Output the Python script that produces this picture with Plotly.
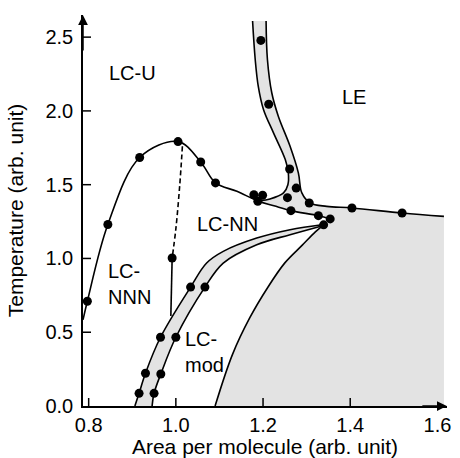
import plotly.graph_objects as go

# ---------------- data ----------------
# main boundary: LC-U / LC-NNN / LC-NN, continuing to the lower branch
main_x = [0.787, 0.797, 0.844, 0.917, 1.005, 1.057, 1.091, 1.14, 1.188, 1.225, 1.264, 1.327, 1.354]
main_y = [0.584, 0.71, 1.23, 1.684, 1.792, 1.654, 1.512, 1.455, 1.39, 1.357, 1.324, 1.29, 1.268]

# LE coexistence band
band_left_x = [1.176, 1.182, 1.189, 1.201, 1.224, 1.251, 1.258, 1.257, 1.247, 1.216, 1.193]
band_left_y = [2.609, 2.35, 2.168, 2.01, 1.851, 1.67, 1.58, 1.50, 1.444, 1.403, 1.392]
band_right_x = [1.207, 1.210, 1.220, 1.235, 1.262, 1.281, 1.289, 1.308]
band_right_y = [2.609, 2.35, 2.123, 1.964, 1.76, 1.58, 1.444, 1.376]
upper_x = [1.308, 1.346, 1.404, 1.519, 1.615]
upper_y = [1.376, 1.353, 1.342, 1.308, 1.285]

# lower branch after the cluster (part of main curve)
lower_x = [1.188, 1.225, 1.264, 1.327, 1.354]
lower_y = [1.39, 1.357, 1.324, 1.29, 1.268]

# LC-mod band
mod_upper_x = [0.906, 0.9156, 0.9303, 0.9648, 1.0338, 1.0706, 1.1087, 1.1855, 1.262, 1.339]
mod_upper_y = [0.0, 0.086, 0.222, 0.466, 0.806, 0.969, 1.048, 1.138, 1.195, 1.230]
mod_lower_x = [0.9455, 0.95, 0.9655, 1.0, 1.0667, 1.1087, 1.1855, 1.262, 1.339]
mod_lower_y = [0.0, 0.086, 0.217, 0.466, 0.806, 0.969, 1.093, 1.161, 1.224]

# bottom-right boundary
br_x = [1.09, 1.13, 1.17, 1.21, 1.25, 1.29, 1.32, 1.339]
br_y = [0.0, 0.35, 0.60, 0.80, 0.97, 1.09, 1.18, 1.228]

# LC-NN / LC-NNN boundary
dash_x = [1.015, 1.009, 1.0, 0.9915]
dash_y = [1.76, 1.5, 1.2, 1.003]
vert_x = [0.9915, 0.9885]
vert_y = [1.003, 0.61]

# measured points
dots_x = [0.797, 0.844, 0.917, 1.005, 1.057, 1.091, 1.179, 1.199, 1.188, 1.264, 1.327, 1.354,
          1.404, 1.519, 1.195, 1.213, 1.261, 1.276, 1.256, 1.306, 0.9915, 1.339,
          0.9156, 0.95, 0.9303, 0.9655, 0.9648, 1.0, 1.0338, 1.0667]
dots_y = [0.71, 1.23, 1.684, 1.792, 1.654, 1.512, 1.432, 1.428, 1.387, 1.324, 1.29, 1.268,
          1.342, 1.308, 2.478, 2.045, 1.606, 1.477, 1.412, 1.376, 1.003, 1.228,
          0.086, 0.086, 0.222, 0.217, 0.466, 0.466, 0.806, 0.806]

phase_labels = ["LC-U", "LE", "LC-NN", "LC-<br>NNN", "LC-<br>mod"]
label_x = [0.90, 1.408, 1.118, 0.839, 1.017]
label_y = [2.254, 2.094, 1.234, 0.828, 0.364]
label_anchor = ["center", "center", "center", "left", "left"]

x_ticks = [0.8, 1.0, 1.2, 1.4, 1.6]
x_ticklabels = ["0.8", "1.0", "1.2", "1.4", "1.6"]
y_ticks = [0.0, 0.5, 1.0, 1.5, 2.0, 2.5]
y_ticklabels = ["0.0", "0.5", "1.0", "1.5", "2.0", "2.5"]

X_MIN, X_MAX, Y_MIN, Y_MAX = 0.787, 1.622, 0.0, 2.65
SHADE_RIGHT = 1.615

GRAY = "#e3e3e3"
FONT = "Liberation Sans, Arial, sans-serif"
LW = 1.6

fig = go.Figure()

# ---- gray fill: LE band + strip + right region ----
poly1_x = (band_left_x + lower_x[1:] + br_x[::-1] + [SHADE_RIGHT] + upper_x[::-1] + band_right_x[::-1])
poly1_y = (band_left_y + lower_y[1:] + br_y[::-1] + [0.0] + upper_y[::-1] + band_right_y[::-1])
fig.add_trace(go.Scatter(x=poly1_x, y=poly1_y, mode="lines", fill="toself", fillcolor=GRAY,
                         line=dict(width=0), hoverinfo="skip", showlegend=False))
# ---- gray fill: LC-mod band ----
poly2_x = mod_upper_x + mod_lower_x[::-1]
poly2_y = mod_upper_y + mod_lower_y[::-1]
fig.add_trace(go.Scatter(x=poly2_x, y=poly2_y, mode="lines", fill="toself", fillcolor=GRAY,
                         line=dict(width=0), hoverinfo="skip", showlegend=False))

def add_line(xs, ys, dash="solid"):
    fig.add_trace(go.Scatter(x=xs, y=ys, mode="lines",
                             line=dict(color="black", width=LW, shape="spline", smoothing=1.0, dash=dash),
                             hoverinfo="skip", showlegend=False))

add_line(main_x, main_y)
add_line(band_left_x, band_left_y)
add_line(band_right_x + upper_x[1:], band_right_y + upper_y[1:])
add_line(mod_upper_x, mod_upper_y)
add_line(mod_lower_x, mod_lower_y)
add_line(br_x, br_y)
add_line(dash_x, dash_y, dash="5px,3px")
fig.add_trace(go.Scatter(x=vert_x, y=vert_y, mode="lines", line=dict(color="black", width=LW),
                         hoverinfo="skip", showlegend=False))

fig.add_trace(go.Scatter(x=dots_x, y=dots_y, mode="markers",
                         marker=dict(color="black", size=9), hoverinfo="skip", showlegend=False))

annotations = []
for t, lx, ly, anc in zip(phase_labels, label_x, label_y, label_anchor):
    annotations.append(dict(x=lx, y=ly, xref="x", yref="y", text=t, showarrow=False,
                            xanchor=anc, yanchor="middle", align="left",
                            font=dict(family=FONT, size=20, color="black")))
# axis arrows
annotations.append(dict(x=X_MAX - 0.0005, y=0, ax=X_MAX - 0.06, ay=0, xref="x", yref="y",
                        axref="x", ayref="y", text="", showarrow=True, arrowhead=2,
                        arrowsize=1.3, arrowwidth=1.5, arrowcolor="black", standoff=0))
annotations.append(dict(x=X_MIN, y=Y_MAX - 0.002, ax=X_MIN, ay=Y_MAX - 0.25, xref="x", yref="y",
                        axref="x", ayref="y", text="", showarrow=True, arrowhead=2,
                        arrowsize=1.3, arrowwidth=1.5, arrowcolor="black", standoff=0))

shapes = []
for tx in x_ticks[:-1]:
    shapes.append(dict(type="line", xref="x", yref="y", ysizemode="pixel", yanchor=0,
                       x0=tx, x1=tx, y0=0, y1=8, line=dict(color="black", width=1.5)))
for ty in y_ticks[1:]:
    shapes.append(dict(type="line", xref="x", yref="y", xsizemode="pixel", xanchor=X_MIN,
                       y0=ty, y1=ty, x0=0, x1=8, line=dict(color="black", width=1.5)))

fig.update_layout(
    template="none",
    width=460, height=458,
    margin=dict(l=83, r=13, t=15, b=52, autoexpand=False),
    paper_bgcolor="white", plot_bgcolor="white",
    font=dict(family=FONT, size=20, color="black"),
    annotations=annotations, shapes=shapes,
    xaxis=dict(range=[X_MIN, X_MAX], showgrid=False, zeroline=False, showline=True, automargin=False,
               linecolor="black", linewidth=1.5, ticks="", tickvals=x_ticks, ticktext=x_ticklabels,
               ticklabelstandoff=0, tickfont=dict(family=FONT, size=20),
               title=dict(text="Area per molecule (arb. unit)", standoff=7,
                          font=dict(family=FONT, size=21))),
    yaxis=dict(range=[Y_MIN, Y_MAX], showgrid=False, zeroline=False, showline=True, automargin=False,
               linecolor="black", linewidth=1.5, ticks="", tickvals=y_ticks, ticktext=y_ticklabels,
               ticklabelstandoff=4, tickfont=dict(family=FONT, size=20),
               title=dict(text="Temperature (arb. unit)", standoff=16,
                          font=dict(family=FONT, size=21))),
)

fig.write_html("out.html")
